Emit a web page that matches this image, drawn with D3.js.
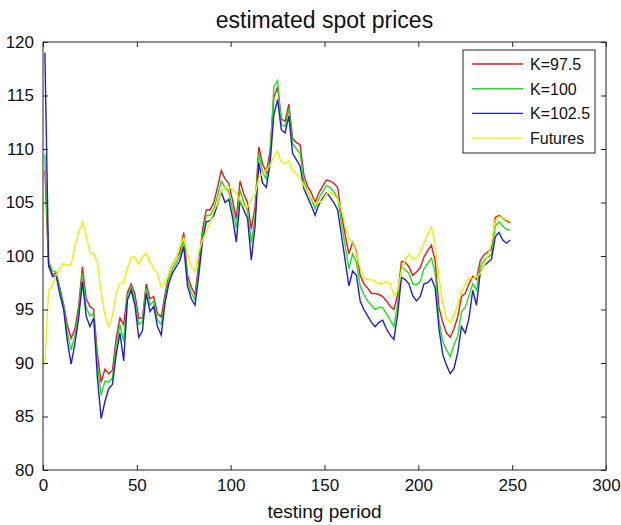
<!DOCTYPE html>
<html>
<head>
<meta charset="utf-8">
<script src="https://d3js.org/d3.v7.min.js"></script>
<style>
body { margin: 0; background: #fff; }
text { font-family: "Liberation Sans", Arial, sans-serif; }
</style>
</head>
<body>
<div id="plot"></div>
<script>
// testing period (every second day)
const period = [1,3,5,7,9,11,13,15,17,19,21,23,25,27,29,31,33,35,37,39,41,43,45,47,49,
  51,53,55,57,59,61,63,65,67,69,71,73,75,77,79,81,83,85,87,89,91,93,95,97,99,
  101,103,105,107,109,111,113,115,117,119,121,123,125,127,129,131,133,135,137,139,
  141,143,145,147,149,151,153,155,157,159,161,163,165,167,169,171,173,175,177,179,
  181,183,185,187,189,191,193,195,197,199,201,203,205,207,209,211,213,215,217,219,
  221,223,225,227,229,231,233,235,237,239,241,243,245,247,249];

const k975 = [108,99,98.3,98.4,97,95.5,93.5,92.3,93.2,95.3,99,96,95.3,95,90.8,88.2,89.4,89,89.3,92.3,94.2,93.6,96.6,97.4,96.4,
  94.2,94.2,97.4,96,96.2,94.6,94.3,96.4,98.2,99.2,99.8,100.4,102.2,98.2,97.1,96.4,99.3,102.5,104.3,104.3,105,106.4,108,107.2,106.8,
  105.2,103.5,107,105.8,105,102.5,104.6,110.2,108.6,107.8,109.8,114.8,115.8,112.8,112.6,114.2,111,110.6,110.4,107.6,
  106.5,105.9,105,105.9,106.5,107.1,107,106.8,106.4,104,102,100.2,101.3,100.4,98.2,97.4,97,96.5,96.5,96.4,
  96.2,95.8,95.3,95,96.4,99.5,99.4,99,98.2,98.5,98.9,99.9,100.5,101,99.5,95.2,93.8,92.8,92.4,93.2,
  94.3,96.2,96.5,97.4,98.1,97.8,99.6,100.1,100.4,100.6,103.6,103.8,103.5,103.3,103.1];

const k100 = [109.5,99.5,98.6,98.5,96.8,95.3,92.8,91.2,92.6,94.8,98.4,95.2,94.4,94.6,89.8,87,88.3,88.2,88.6,91.6,93.6,92,96.3,97.1,95.9,
  93.6,93.8,97,95.4,95.8,94,93.6,96,97.8,98.8,99.4,100,101.6,97.7,96.6,95.9,98.8,102,103.8,103.8,104.4,105.6,107,106.4,106,
  104.4,102.6,106.2,105,104.2,101.2,103.6,109.6,107.8,107.2,109.2,115.8,116.4,112.3,112.1,113.8,110.5,110,109.6,107,
  106,105.3,104.4,105.4,106,106.6,106.4,106,105.4,103.2,101,98.8,100.2,99.4,97.2,96.4,95.8,95.4,95,95.2,
  95.2,94.6,94,93.4,95.6,99,98.7,98.4,97.4,97.3,97.6,98.8,99.3,99.8,98.4,94,92,91.2,90.6,91.7,
  92.5,94.8,95.2,96.3,97.4,96.8,99,99.6,99.9,100.1,102.8,103.2,102.8,102.5,102.4];

const k1025 = [119,99.2,98.1,98.2,96.4,95,92,89.9,91.8,94.2,97.6,94.4,93.4,94.2,88.6,84.8,86.4,87.6,88,90.8,92.8,90.2,95.9,96.8,95.4,
  92.4,93,96.5,94.8,95.3,93.4,92.6,95.6,97.4,98.4,99,99.6,100.9,97.2,96,95.4,98.2,101.4,103.2,103.3,103.8,104.8,106,105,105.3,
  103.6,101.3,105.2,104.3,103.5,99.6,102.8,108.7,106.8,106.4,108.6,113.2,114.6,111.8,111.5,113.1,109.6,109,108.4,106.3,
  105.5,104.7,103.8,104.8,105.4,105.9,105.5,105,104.3,102,99.6,97.2,98.6,98.2,95.8,95,94.4,93.8,93.4,93.8,
  94,93.2,92.6,92.2,94.6,98,97.8,97.4,96.3,95.8,96.2,97.4,97.5,97.9,97,93.2,90.8,89.8,89,89.5,
  91,93.4,92.8,94.2,96.8,95.4,98.5,99.1,99.4,99.7,101.8,102.2,101.5,101.2,101.5];

const futures = [90,96.8,97.2,98.2,98.8,99.3,99.1,99.2,100.9,102.2,103.2,101.9,100.3,100.2,99.4,96.6,94.5,93.4,94.4,96.5,97.4,97.5,98.8,99.9,99.9,
  99.2,99.9,100.3,99.5,98.8,98.4,97.1,97.5,98.2,99.2,99.8,100.9,101.7,100.2,99,98.5,100.4,101.5,102.3,103.1,104.2,104.9,106,106.4,106.5,
  106.2,105.9,105.2,104.6,104.6,105.3,105.7,107.3,107.8,108,108.5,109.3,109.8,108.8,108.6,108.9,108,107.7,107.3,106.6,
  105.9,105.4,104.9,105,105.2,105.8,105.9,105.7,105.3,104.4,102.8,101.6,101.3,100.2,98.9,97.9,97.8,97.8,97.6,97.4,
  97.4,97.6,97.4,96.3,96.8,98.6,99.6,100.2,99.7,99.8,100.3,101.2,102,102.7,101,98,95.7,94.1,93.8,94.5,
  95.4,96.7,97.3,98,97.9,98,98.4,99.1,100,101.2,103.3,103.7,103.5,103.4,103.2];

const seriesNames = ["K=97.5", "K=100", "K=102.5", "Futures"];
const seriesColors = ["#e01b1b", "#1fe01f", "#2020c4", "#f0f000"];
const xTicks = [0, 50, 100, 150, 200, 250, 300];
const yTicks = [80, 85, 90, 95, 100, 105, 110, 115, 120];

function generate(){
    var dimension = {
        width: 621,
        height: 525,
        margin: { top: 42, left: 43, bottom: 55, right: 15 }
    }
    dimension.boundedWidth = dimension.width - dimension.margin.left - dimension.margin.right;
    dimension.boundedHeight = dimension.height - dimension.margin.top - dimension.margin.bottom;

    const svg = d3.select("#plot").append("svg")
        .attr("width", dimension.width)
        .attr("height", dimension.height);

    const bounded = svg.append("g")
        .attr("transform", `translate(${dimension.margin.left},${dimension.margin.top})`);

    const xScaler = d3.scaleLinear().domain([0, 300]).range([0, dimension.boundedWidth]);
    const yScaler = d3.scaleLinear().domain([80, 120]).range([dimension.boundedHeight, 0]);

    // lines
    const data = [k975, k100, k1025, futures];
    const line = d3.line()
        .x((d, i) => xScaler(period[i]))
        .y(d => yScaler(d));

    bounded.append("clipPath").attr("id", "clip")
        .append("rect").attr("width", dimension.boundedWidth).attr("height", dimension.boundedHeight);

    bounded.append("g").attr("clip-path", "url(#clip)")
        .selectAll("path").data(data).join("path")
        .attr("d", d => line(d))
        .attr("fill", "none")
        .attr("stroke", (d, i) => seriesColors[i])
        .attr("stroke-width", 1.4);

    // axes, matlab style: ticks inside, box all round
    const xAxis = d3.axisBottom(xScaler).tickValues(xTicks).tickSizeInner(-5).tickSizeOuter(0).tickPadding(9);
    const yAxis = d3.axisLeft(yScaler).tickValues(yTicks).tickSizeInner(-5).tickSizeOuter(0).tickPadding(9);
    const xTop = d3.axisTop(xScaler).tickValues(xTicks).tickSizeInner(-5).tickSizeOuter(0).tickFormat("");
    const yRight = d3.axisRight(yScaler).tickValues(yTicks).tickSizeInner(-5).tickSizeOuter(0).tickFormat("");

    const gx = bounded.append("g").attr("transform", `translate(0,${dimension.boundedHeight})`).call(xAxis);
    const gy = bounded.append("g").call(yAxis);
    bounded.append("g").call(xTop);
    bounded.append("g").attr("transform", `translate(${dimension.boundedWidth},0)`).call(yRight);

    bounded.selectAll(".domain").remove();
    bounded.selectAll(".tick line").attr("stroke", "#222");
    gx.selectAll("text").attr("font-size", 17).attr("fill", "#111").attr("font-family", "Liberation Sans, Arial");
    gy.selectAll("text").attr("font-size", 17).attr("fill", "#111").attr("font-family", "Liberation Sans, Arial");

    bounded.append("rect")
        .attr("width", dimension.boundedWidth)
        .attr("height", dimension.boundedHeight)
        .attr("fill", "none")
        .attr("stroke", "#222")
        .attr("stroke-width", 1);

    // title and label
    svg.append("text")
        .attr("x", dimension.margin.left + dimension.boundedWidth / 2)
        .attr("y", 28)
        .attr("text-anchor", "middle")
        .attr("font-size", 23)
        .attr("fill", "#111")
        .text("estimated spot prices");

    svg.append("text")
        .attr("x", dimension.margin.left + dimension.boundedWidth / 2)
        .attr("y", 518)
        .attr("text-anchor", "middle")
        .attr("font-size", 19)
        .attr("fill", "#111")
        .text("testing period");

    // legend
    const legend = svg.append("g").attr("transform", "translate(463,50)");
    legend.append("rect")
        .attr("width", 132).attr("height", 103)
        .attr("fill", "#fff").attr("stroke", "#222");
    const item = legend.selectAll("g.item").data(seriesNames).join("g")
        .attr("class", "item")
        .attr("transform", (d, i) => `translate(0,${14 + i * 24.7})`);
    item.append("line")
        .attr("x1", 9).attr("x2", 60)
        .attr("stroke", (d, i) => seriesColors[i]).attr("stroke-width", 1.4);
    item.append("text")
        .attr("x", 67).attr("y", 6)
        .attr("font-size", 16)
        .attr("fill", "#111")
        .text(d => d);
}

generate()
</script>
</body>
</html>
